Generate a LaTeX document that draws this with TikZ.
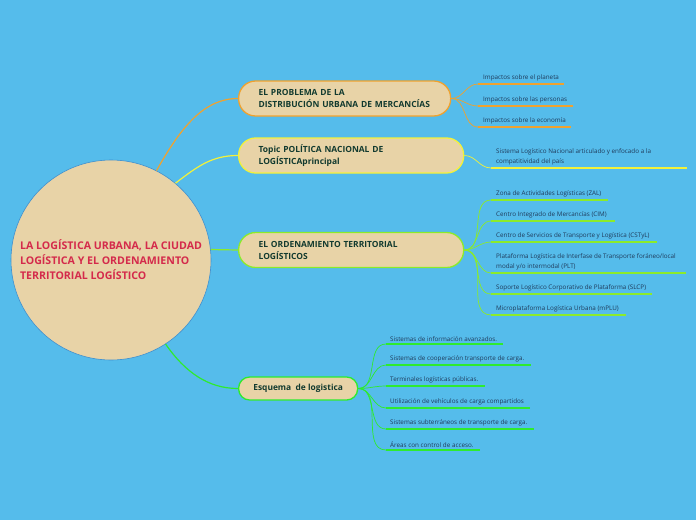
\documentclass[tikz,border=0pt]{standalone}
\usepackage{fontspec}
\setmainfont{Open Sans}
\definecolor{bg}{HTML}{55BCEB}
\definecolor{beige}{HTML}{E8D3A7}
\definecolor{circborder}{HTML}{3D8FD0}
\definecolor{redtext}{HTML}{D42A4B}
\definecolor{boxtext}{HTML}{123A2F}
\definecolor{leaftext}{HTML}{1F3A5A}
\definecolor{orangec}{HTML}{F0A22E}
\definecolor{yellowc}{HTML}{F2F23A}
\definecolor{limec}{HTML}{8CEB2A}
\definecolor{greenc}{HTML}{2EEB2E}
\begin{document}
\begin{tikzpicture}[x=1pt,y=-1pt,
  box/.style={draw, line width=1.3pt, fill=beige, rounded corners=17pt,
    minimum height=35pt, inner xsep=20pt, inner ysep=0pt, align=left,
    font=\bfseries\fontsize{8.45}{12}\selectfont, text=boxtext, anchor=west},
  leaf/.style={inner sep=0pt, anchor=south west, align=left,
    font=\fontsize{6.3}{10}\selectfont, text=leaftext},
  uline/.style={line width=1.8pt},
  conn/.style={line width=0.7pt},
  trunk/.style={line width=1.2pt}]
\fill[bg] (0,0) rectangle (696,520);
\useasboundingbox (0,0) rectangle (696,520);

% central circle
\node[circle, draw=circborder, line width=0.6pt, fill=beige, minimum size=200pt,
  inner sep=1pt, align=left, text=redtext,
  font=\bfseries\fontsize{10.6}{15}\selectfont] (c) at (111,260)
  {LA LOGÍSTICA URBANA, LA CIUDAD\\LOGÍSTICA Y EL ORDENAMIENTO\\TERRITORIAL LOGÍSTICO};

% branch boxes
\node[box, draw=orangec, minimum width=212pt, text width=172pt] (b1) at (238,98.5)
  {\mbox{EL PROBLEMA DE LA}\\\mbox{DISTRIBUCIÓN URBANA DE MERCANCÍAS}};
\node[box, draw=yellowc, minimum width=225pt, text width=185pt] (b2) at (238,155.5)
  {\mbox{Topic POLÍTICA NACIONAL DE}\\\mbox{LOGÍSTICAprincipal}};
\node[box, draw=limec, minimum width=225pt, text width=185pt] (b3) at (238,250)
  {\mbox{EL ORDENAMIENTO TERRITORIAL}\\\mbox{LOGÍSTICOS}};
\node[box, draw=greenc, minimum width=119pt, minimum height=23pt, rounded corners=11pt,
  inner xsep=4pt, align=center, font=\bfseries\fontsize{8.4}{10}\selectfont] (b4) at (238,388.5)
  {Esquema \ de logistica};

% trunk connectors
\draw[trunk, orangec] (c.63) .. controls (182,125) and (205,98.5) .. (b1.west);
\draw[trunk, yellowc] (c.50) .. controls (198,166) and (212,155.5) .. (b2.west);
\draw[trunk, limec] (c.6) -- (b3.west);
\draw[trunk, greenc] (c.-57) .. controls (185,372) and (208,388.5) .. (b4.west);

% branch 1 leaves
\coordinate (a1s) at (478,84);  \coordinate (a1e) at (564,84);
\coordinate (a2s) at (478,106); \coordinate (a2e) at (573,106);
\coordinate (a3s) at (478,127); \coordinate (a3e) at (571,127);
\node[leaf] (a1) at (483,81.5) {Impactos sobre el planeta};
\node[leaf] (a2) at (483,103.5) {Impactos sobre las personas};
\node[leaf] (a3) at (483,124.5) {Impactos sobre la economía};
\foreach \k in {1,2,3}{
  \draw[conn, orangec] (b1.east) to[out=0,in=180] (a\k s);
  \draw[uline, orangec] (a\k s) -- (a\k e);
}

% branch 2 leaf
\coordinate (p1s) at (491,168); \coordinate (p1e) at (687,168);
\node[leaf] (p1) at (496,165.5)
  {Sistema Logístico Nacional articulado y enfocado a la\\compatitividad del país};
\draw[conn, yellowc] (b2.east) to[out=0,in=180] (p1s);
\draw[uline, yellowc] (p1s) -- (p1e);

% branch 3 leaves
\coordinate (o1s) at (491,200); \coordinate (o1e) at (608,200);
\coordinate (o2s) at (491,221); \coordinate (o2e) at (615,221);
\coordinate (o3s) at (491,242); \coordinate (o3e) at (657,242);
\coordinate (o4s) at (491,273); \coordinate (o4e) at (686,273);
\coordinate (o5s) at (491,294); \coordinate (o5e) at (652,294);
\coordinate (o6s) at (491,315); \coordinate (o6e) at (626,315);
\node[leaf] (o1) at (496,197.5) {Zona de Actividades Logísticas (ZAL)};
\node[leaf] (o2) at (496,218.5) {Centro Integrado de Mercancías (CIM)};
\node[leaf] (o3) at (496,239.5) {Centro de Servicios de Transporte y Logística (CSTyL)};
\node[leaf] (o4) at (496,270.5) {Plataforma Logística de Interfase de Transporte foráneo/local\\modal y/o intermodal (PLT)};
\node[leaf] (o5) at (496,291.5) {Soporte Logístico Corporativo de Plataforma (SLCP)};
\node[leaf] (o6) at (496,312.5) {Microplataforma Logística Urbana (mPLU)};
\foreach \k in {1,...,6}{
  \draw[conn, limec] (b3.east) to[out=0,in=180] (o\k s);
  \draw[uline, limec] (o\k s) -- (o\k e);
}

% branch 4 leaves
\coordinate (e1s) at (386,344); \coordinate (e1e) at (503,344);
\coordinate (e2s) at (386,365); \coordinate (e2e) at (531,365);
\coordinate (e3s) at (386,386); \coordinate (e3e) at (485,386);
\coordinate (e4s) at (386,408); \coordinate (e4e) at (530,408);
\coordinate (e5s) at (386,429); \coordinate (e5e) at (534,429);
\coordinate (e6s) at (386,450); \coordinate (e6e) at (480,450);
\node[leaf] (e1) at (390,341.5) {Sistemas de información avanzados.};
\node[leaf] (e2) at (390,362.5) {Sistemas de cooperación transporte de carga.};
\node[leaf] (e3) at (390,383.5) {Terminales logísticas públicas.};
\node[leaf] (e4) at (390,405.5) {Utilización de vehículos de carga compartidos};
\node[leaf] (e5) at (390,426.5) {Sistemas subterráneos de transporte de carga.};
\node[leaf] (e6) at (390,447.5) {Áreas con control de acceso.};
\foreach \k in {1,...,6}{
  \draw[conn, greenc] (b4.east) to[out=0,in=180] (e\k s);
  \draw[uline, greenc] (e\k s) -- (e\k e);
}
\end{tikzpicture}
\end{document}
